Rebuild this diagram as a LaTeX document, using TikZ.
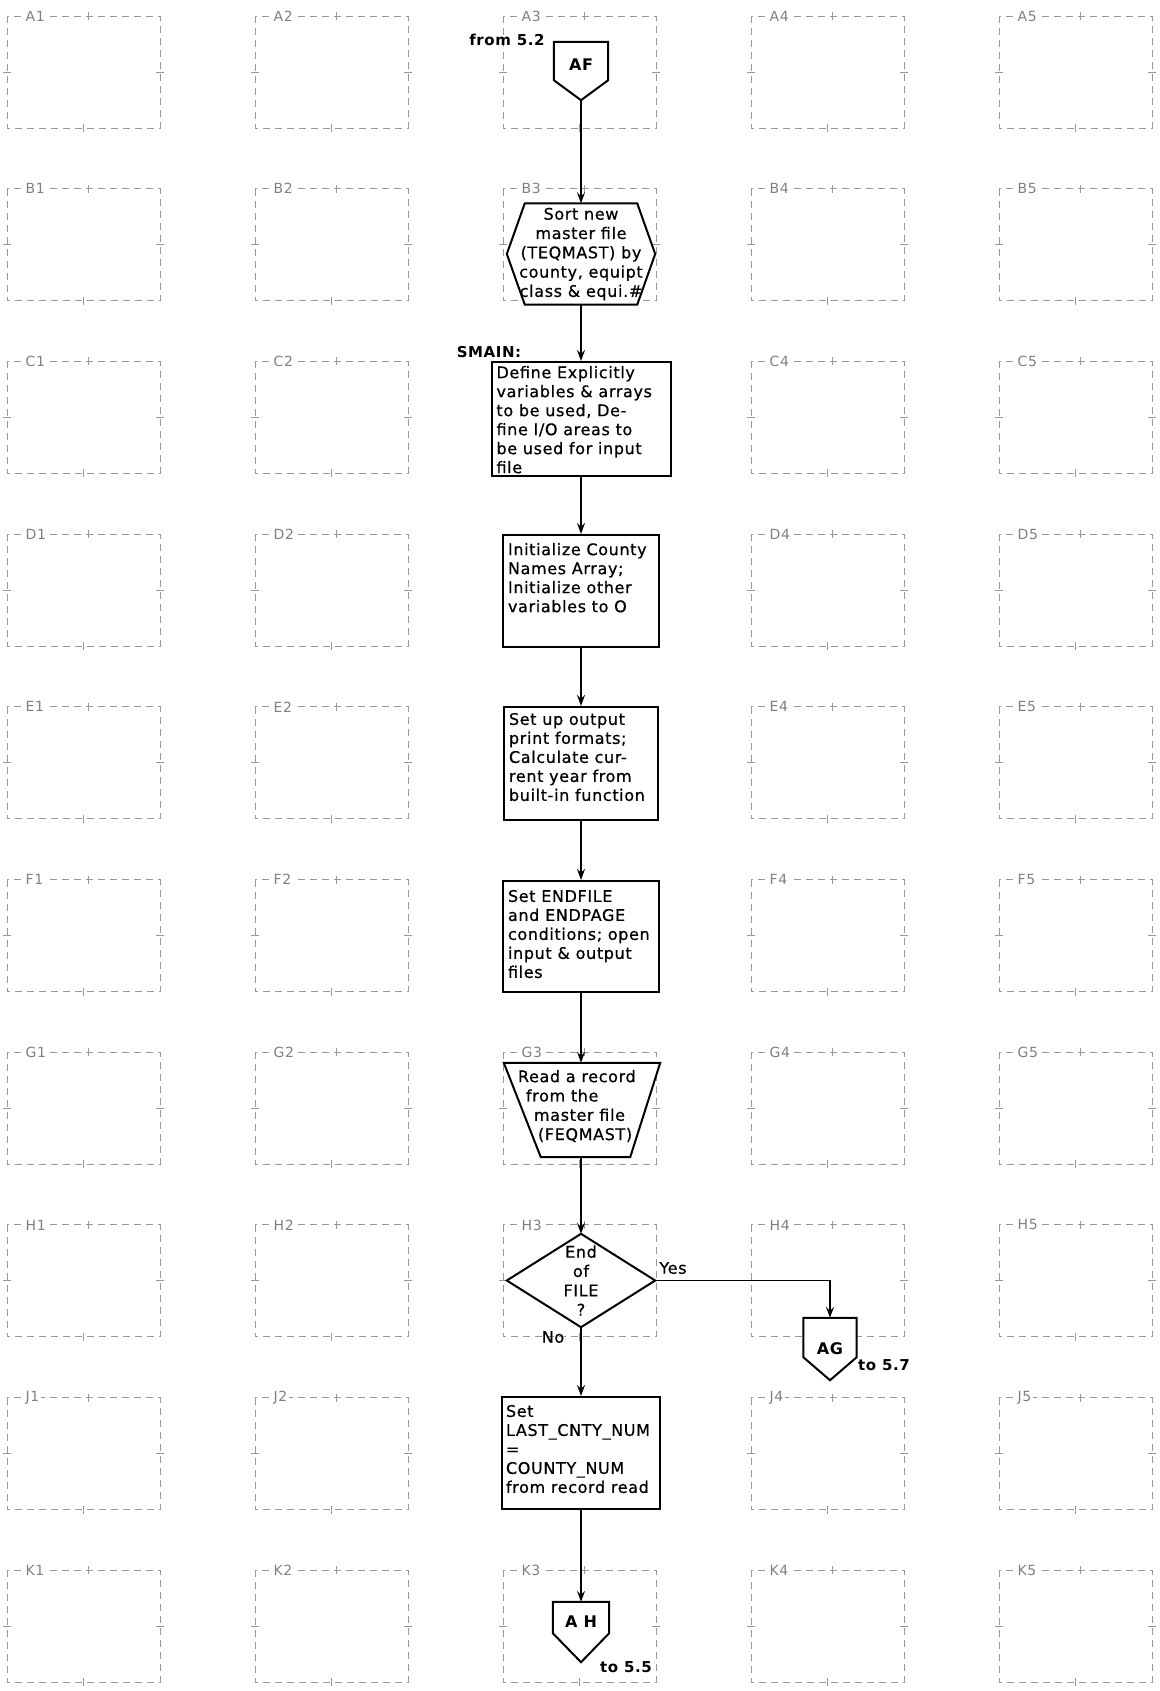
\documentclass[tikz,border=0pt]{standalone}
\usepackage{fontspec}
\setmainfont[LetterSpace=4]{DejaVu Sans}
\newfontfamily\boxfont[LetterSpace=4,FakeBold=0.6]{DejaVu Sans}
\usetikzlibrary{arrows.meta,calc,backgrounds}
\newcommand\boxtxt[3]{\parbox[c][#2pt][t]{#1pt}{\raggedright #3}}
\tikzset{
  gridbox/.style={draw=black!40, line width=0.9pt, dash pattern=on 7pt off 5pt},
  gridtick/.style={draw=black!40, line width=0.9pt},
  gridlbl/.style={anchor=west, fill=white, inner sep=1.5pt, text=black!50, font=\fontsize{14}{14}\selectfont},
  shp/.style={draw=black, line width=2pt, fill=white, line join=miter},
  procbox/.style={shp, inner xsep=5pt, font=\boxfont\fontsize{16}{19}\selectfont},
  boundbox/.style={inner sep=0pt, draw=none, font=\boxfont\fontsize{16}{19.3}\selectfont, align=center},
  conn/.style={boundbox, font=\bfseries\fontsize{16}{16}\selectfont, text depth=0pt},
  arr/.style={draw=black, line width=1.7pt, -{Stealth[length=11pt,width=8pt,inset=4pt]}},
  lbl/.style={inner sep=0pt, font=\bfseries\fontsize{15}{15}\selectfont},
  plainlbl/.style={inner sep=0pt, font=\boxfont\fontsize{16}{16}\selectfont},
}
\begin{document}
\begin{tikzpicture}[x=1pt,y=-1pt]
\useasboundingbox (0,0) rectangle (1159,1691);
% ---------- background grid of template cells ----------
\begin{scope}[on background layer]
\fill[white] (0,0) rectangle (1159,1691);
\foreach \r [count=\i from 0] in {A,B,C,D,E,F,G,H,J,K}{
  \foreach \j in {0,...,4}{
    \pgfmathtruncatemacro\hideflag{(\j==2)&&((\i==2)||(\i==3)||(\i==4)||(\i==5)||(\i==8))}
    \pgfmathtruncatemacro\cnum{\j+1}
    \ifnum\hideflag=0
      \pgfmathsetmacro\cx{7+248*\j}
      \pgfmathsetmacro\cy{16+172.7*\i}
      \draw[gridbox] (\cx,\cy) rectangle ++(153,112);
      \draw[gridtick] (\cx+81,\cy-4) -- ++(0,8) (\cx+76,\cy+108) -- ++(0,8)
                      (\cx-4,\cy+56) -- ++(8,0) (\cx+149,\cy+56) -- ++(8,0);
      \node[gridlbl] (lbl\r\cnum) at (\cx+17,\cy) {\r\cnum};
    \fi
  }
}
\end{scope}

% ---------- flowchart nodes ----------
\node[conn, minimum width=54pt, minimum height=38pt, text height=19.7pt] (af) at (581,61) {AF};
\coordinate (aftip) at ($(af.south)+(0,20)$);

\node[boundbox, minimum width=148pt, minimum height=101pt] (sort) at (581,254)
  {Sort new\\master file\\(TEQMAST) by\\county, equipt\\class \& equi.\#};

\node[procbox, inner ysep=4pt] (define) at (581,419)
  {\boxtxt{169}{106}{Define Explicitly\\variables \& arrays\\to be used, De-\\fine I/O areas to\\be used for input\\file}};

\node[procbox, inner ysep=8pt] (init) at (581,591)
  {\boxtxt{146}{96}{Initialize County\\Names Array;\\Initialize other\\variables to O}};

\node[procbox, inner ysep=6pt] (setup) at (581,763.5)
  {\boxtxt{144}{101}{Set up output\\print formats;\\Calculate cur-\\rent year from\\built-in function}};

\node[procbox, inner ysep=9pt] (endfile) at (581,936.5)
  {\boxtxt{146}{93}{Set ENDFILE\\and ENDPAGE\\conditions; open\\input \& output\\files}};

\node[boundbox, inner xsep=14pt, inner ysep=7pt, align=left] (read) at (582,1110)
  {\boxtxt{128}{80}{Read a record\\\hspace*{8pt}from the\\\hspace*{16pt}master file\\\hspace*{20pt}(FEQMAST)}};

\node[boundbox, minimum width=148pt, minimum height=93pt] (dec) at (581,1280.5)
  {End\\of\\FILE\\?};

\node[conn, minimum width=53pt, minimum height=39pt, text height=34.7pt] (ag) at (830,1337.5) {AG};
\coordinate (agtip) at ($(ag.south)+(0,23)$);

\node[procbox, inner xsep=4pt, inner ysep=8pt] (setlast) at (581,1453)
  {\boxtxt{150}{96}{Set\\LAST\_CNTY\_NUM\\=\\COUNTY\_NUM\\from record read}};

\node[conn, minimum width=56pt, minimum height=31pt, text height=20.7pt] (ah) at (581,1617.5) {A H};
\coordinate (ahtip) at ($(ah.south)+(0,29)$);

% ---------- outlines of the non-rectangular symbols ----------
\begin{scope}[on background layer]
\draw[shp] (af.north west) -- (af.north east) -- (af.south east) -- (aftip) -- (af.south west) -- cycle;
\draw[shp] ($(sort.north west)+(18,0)$) -- ($(sort.north east)+(-18,0)$) -- (sort.east)
  -- ($(sort.south east)+(-18,0)$) -- ($(sort.south west)+(18,0)$) -- (sort.west) -- cycle;
\draw[shp] (read.north west) -- (read.north east) -- ($(read.south east)+(-30,0)$)
  -- ($(read.south west)+(37,0)$) -- cycle;
\draw[shp] (dec.north) -- (dec.east) -- (dec.south) -- (dec.west) -- cycle;
\draw[shp] (ag.north west) -- (ag.north east) -- (ag.south east) -- (agtip) -- (ag.south west) -- cycle;
\draw[shp] (ah.north west) -- (ah.north east) -- (ah.south east) -- (ahtip) -- (ah.south west) -- cycle;
\end{scope}

% ---------- connectors ----------
\draw[arr] (aftip) -- (sort.north);
\draw[arr] (sort.south) -- (define.north);
\draw[arr] (define.south) -- (init.north);
\draw[arr] (init.south) -- (setup.north);
\draw[arr] (setup.south) -- (endfile.north);
\draw[arr] (endfile.south) -- (read.north -| endfile.south);
\draw[arr] (read.south -| dec.north) -- (dec.north);
\draw[arr] (dec.south) -- (setlast.north);
\draw[arr] (dec.east) -| (ag.north);
\draw[arr] (setlast.south) -- (ah.north);

% ---------- labels ----------
\node[lbl] (from52) at (507,40) {from 5.2};
\node[lbl] (smain) at (489,352) {SMAIN:};
\node[plainlbl] (yes) at (673,1268) {Yes};
\node[plainlbl] (no) at (553,1337) {No};
\node[lbl] (to57) at (884,1365) {to 5.7};
\node[lbl] (to55) at (626,1667) {to 5.5};
\end{tikzpicture}
\end{document}
